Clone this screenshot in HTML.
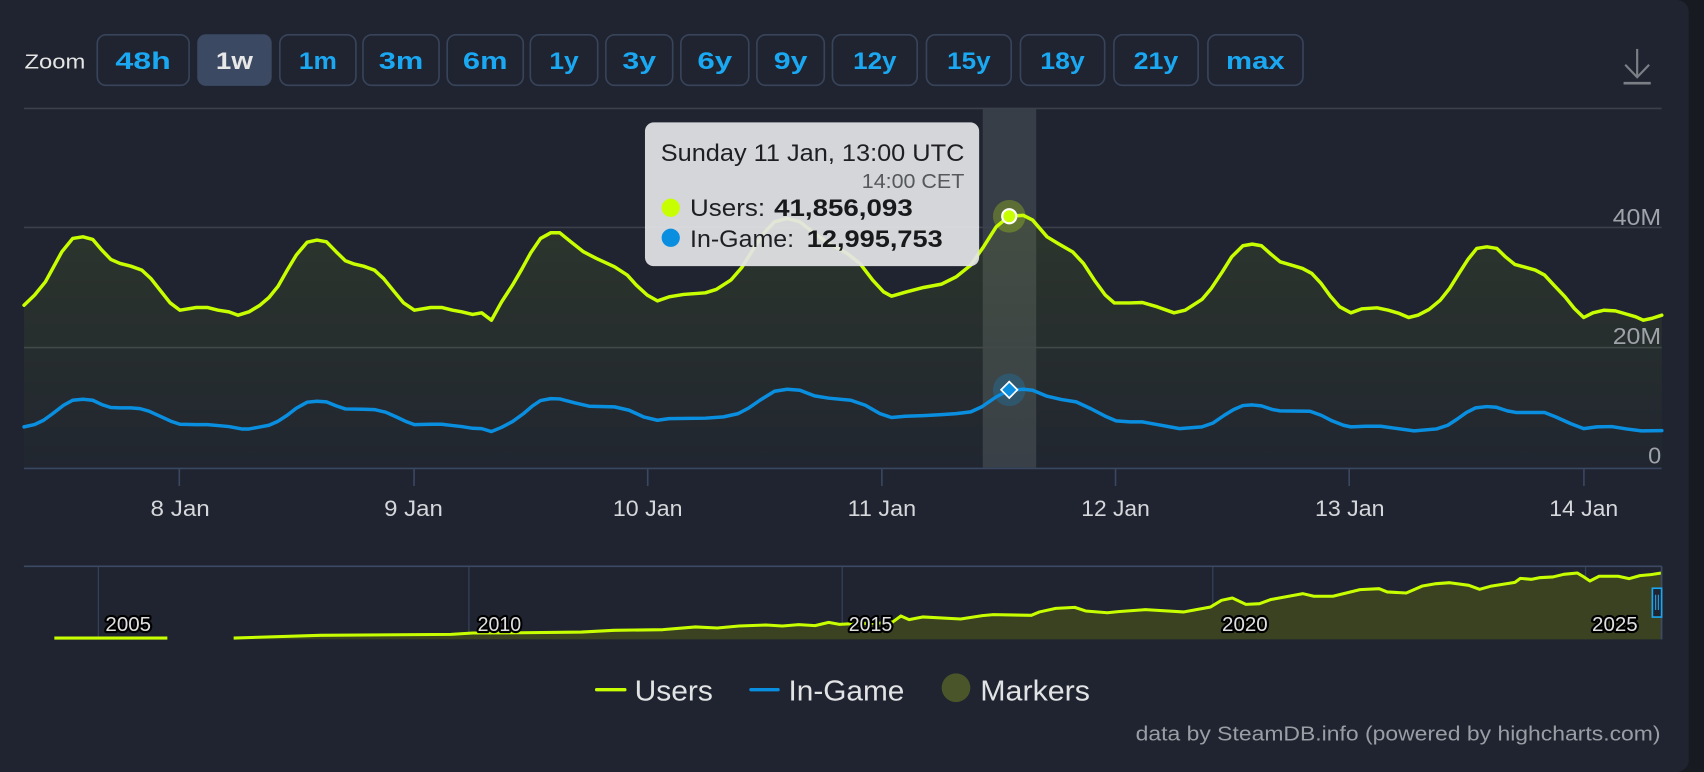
<!DOCTYPE html>
<html>
<head>
<meta charset="utf-8">
<style>
html,body{margin:0;padding:0;background:#171a21;width:1704px;height:772px;overflow:hidden;}
svg{display:block;position:absolute;left:0;top:0;}
text{font-family:"Liberation Sans",Arial,sans-serif;}
</style>
</head>
<body>
<svg width="1704" height="772" viewBox="0 0 1568 710" preserveAspectRatio="none" xmlns="http://www.w3.org/2000/svg">
<defs>
<linearGradient id="ug" x1="0" y1="0" x2="0" y2="1">
<stop offset="0" stop-color="#c8ff00" stop-opacity="0.08"/>
<stop offset="1" stop-color="#c8ff00" stop-opacity="0.01"/>
</linearGradient>
</defs>
<!-- card -->
<rect x="-20" y="0" width="1574" height="710" rx="11" fill="#1f2430"/>

<!-- zoom bar -->
<text x="22.5" y="62.9" font-size="19" fill="#e4e4e4" textLength="56" lengthAdjust="spacingAndGlyphs">Zoom</text>
<g fill="none" stroke="#38445a" stroke-width="1.5">
<rect x="89.5" y="32" width="84.5" height="46.5" rx="8"/>
<rect x="257.5" y="32" width="70" height="46.5" rx="8"/>
<rect x="334" y="32" width="70" height="46.5" rx="8"/>
<rect x="411.5" y="32" width="70" height="46.5" rx="8"/>
<rect x="488" y="32" width="62" height="46.5" rx="8"/>
<rect x="557.5" y="32" width="61.5" height="46.5" rx="8"/>
<rect x="626.5" y="32" width="62.5" height="46.5" rx="8"/>
<rect x="696.5" y="32" width="62" height="46.5" rx="8"/>
<rect x="766" y="32" width="78" height="46.5" rx="8"/>
<rect x="852.5" y="32" width="78" height="46.5" rx="8"/>
<rect x="939" y="32" width="77.5" height="46.5" rx="8"/>
<rect x="1025" y="32" width="77.5" height="46.5" rx="8"/>
<rect x="1111.5" y="32" width="87.5" height="46.5" rx="8"/>
</g>
<rect x="181.5" y="31.5" width="68.5" height="47.5" rx="8" fill="#3b4a62"/>
<g font-size="22" font-weight="bold" fill="#1ba8f2" text-anchor="middle">
<text x="131.7" y="63.5" textLength="51" lengthAdjust="spacingAndGlyphs">48h</text>
<text x="215.7" y="63.5" textLength="34" lengthAdjust="spacingAndGlyphs" fill="#e8e8e8">1w</text>
<text x="292.5" y="63.5" textLength="35" lengthAdjust="spacingAndGlyphs">1m</text>
<text x="369" y="63.5" textLength="41" lengthAdjust="spacingAndGlyphs">3m</text>
<text x="446.5" y="63.5" textLength="41" lengthAdjust="spacingAndGlyphs">6m</text>
<text x="519" y="63.5" textLength="27" lengthAdjust="spacingAndGlyphs">1y</text>
<text x="588.2" y="63.5" textLength="31" lengthAdjust="spacingAndGlyphs">3y</text>
<text x="657.7" y="63.5" textLength="32" lengthAdjust="spacingAndGlyphs">6y</text>
<text x="727.5" y="63.5" textLength="31" lengthAdjust="spacingAndGlyphs">9y</text>
<text x="805" y="63.5" textLength="40" lengthAdjust="spacingAndGlyphs">12y</text>
<text x="891.5" y="63.5" textLength="40" lengthAdjust="spacingAndGlyphs">15y</text>
<text x="977.7" y="63.5" textLength="41" lengthAdjust="spacingAndGlyphs">18y</text>
<text x="1063.7" y="63.5" textLength="41" lengthAdjust="spacingAndGlyphs">21y</text>
<text x="1155.2" y="63.5" textLength="54" lengthAdjust="spacingAndGlyphs">max</text>
</g>
<!-- download icon -->
<g stroke="#7c7f85" stroke-width="2" fill="none">
<line x1="1506.5" y1="45" x2="1506.5" y2="71"/>
<polyline points="1495.5,59.5 1506.5,71 1517.5,59.5"/>
<line x1="1494" y1="76.5" x2="1519" y2="76.5" stroke-width="2.5"/>
</g>

<!-- plot band -->
<rect x="904.3" y="100" width="49.2" height="330" fill="#383e48"/>
<!-- gridlines -->
<g stroke="#3b404a" stroke-width="1.5">
<line x1="22" y1="99.7" x2="1529" y2="99.7"/>
<line x1="22" y1="209.2" x2="1529" y2="209.2"/>
<line x1="22" y1="319.6" x2="1529" y2="319.6"/>
</g>
<!-- users area -->
<polygon fill="url(#ug)" points="22.1,430 22.1,280.7 31.8,271.4 41.8,259.2 56.9,231.6 66.9,219.3 76.3,217.8 85.3,220.2 93.7,230.0 102.0,238.6 110.4,242.3 120.4,244.8 130.5,248.4 138.8,256.1 147.2,266.8 156.5,278.5 165.6,285.3 180.6,282.8 190.7,282.8 200.7,285.3 210.7,286.8 219.1,289.9 229.1,286.8 239.2,280.7 247.5,273.6 255.9,263.2 264.3,248.4 272.6,234.6 282.7,222.7 291.7,220.8 300.4,222.4 309.4,231.6 317.8,239.8 326.1,242.9 334.5,244.8 344.5,248.4 352.9,256.1 362.9,268.4 371.3,278.5 381.3,285.3 396.4,282.8 406.4,282.8 416.5,285.3 424.8,286.8 434.9,289.2 443.2,287.7 452.2,294.5 461.6,277.6 471.6,262.2 480.0,247.8 488.4,232.5 497.4,219.3 506.8,214.1 515.1,214.1 525.3,222.4 537.0,231.6 548.8,237.7 565.5,245.4 577.2,253.0 585.5,262.2 595.6,271.4 605.0,276.7 615.7,273.0 629.0,270.8 649.1,269.3 659.1,266.2 672.5,257.6 682.6,246.0 692.6,230.0 702.6,214.7 712.7,204.0 724.4,200.9 736.1,204.0 749.5,214.7 762.8,223.9 779.6,233.1 791.3,242.3 803.0,257.6 813.0,268.4 820.4,272.4 833.1,268.7 849.8,264.4 866.5,261.3 879.9,254.6 893.3,243.8 905.0,227.0 916.7,208.6 928.7,198.7 941.8,198.1 950.2,202.4 963.5,217.8 973.6,223.9 987.0,231.6 997.0,242.3 1007.0,257.6 1017.1,271.4 1025.4,278.6 1039.8,278.6 1051.2,278.2 1064.9,282.2 1080.3,287.7 1090.6,285.3 1106.0,275.4 1114.6,265.3 1124.8,250.0 1133.4,236.2 1143.7,226.0 1152.3,224.5 1160.8,226.0 1169.4,233.7 1178.0,240.8 1188.2,243.8 1198.5,246.9 1207.1,251.5 1215.7,260.7 1224.2,272.4 1232.8,282.2 1243.1,287.7 1253.4,284.0 1267.1,283.1 1277.4,285.3 1287.6,288.3 1296.2,292.0 1304.8,289.9 1315.0,284.6 1325.3,276.1 1333.9,265.3 1342.5,251.5 1351.0,238.3 1358.9,228.5 1368.2,227.0 1377.4,228.5 1385.3,236.2 1393.9,243.2 1404.1,246.0 1412.7,248.4 1421.3,253.0 1429.8,262.2 1440.1,273.0 1448.7,283.7 1457.3,292.0 1465.8,287.7 1476.1,285.3 1486.4,285.9 1496.7,288.9 1505.2,291.4 1512.1,294.5 1520.7,292.6 1529.2,289.9 1529.2,430"/>
<!-- x axis -->
<g stroke="#3a4760" stroke-width="1.5">
<line x1="22" y1="430.8" x2="1529" y2="430.8"/>
<line x1="165" y1="431" x2="165" y2="447"/>
<line x1="381" y1="431" x2="381" y2="447"/>
<line x1="596" y1="431" x2="596" y2="447"/>
<line x1="811.5" y1="431" x2="811.5" y2="447"/>
<line x1="1026.5" y1="431" x2="1026.5" y2="447"/>
<line x1="1241.5" y1="431" x2="1241.5" y2="447"/>
<line x1="1457.5" y1="431" x2="1457.5" y2="447"/>
</g>
<!-- users line -->
<polyline fill="none" stroke="#c8ff00" stroke-width="3.2" stroke-linejoin="round" stroke-linecap="round" points="22.1,280.7 31.8,271.4 41.8,259.2 56.9,231.6 66.9,219.3 76.3,217.8 85.3,220.2 93.7,230.0 102.0,238.6 110.4,242.3 120.4,244.8 130.5,248.4 138.8,256.1 147.2,266.8 156.5,278.5 165.6,285.3 180.6,282.8 190.7,282.8 200.7,285.3 210.7,286.8 219.1,289.9 229.1,286.8 239.2,280.7 247.5,273.6 255.9,263.2 264.3,248.4 272.6,234.6 282.7,222.7 291.7,220.8 300.4,222.4 309.4,231.6 317.8,239.8 326.1,242.9 334.5,244.8 344.5,248.4 352.9,256.1 362.9,268.4 371.3,278.5 381.3,285.3 396.4,282.8 406.4,282.8 416.5,285.3 424.8,286.8 434.9,289.2 443.2,287.7 452.2,294.5 461.6,277.6 471.6,262.2 480.0,247.8 488.4,232.5 497.4,219.3 506.8,214.1 515.1,214.1 525.3,222.4 537.0,231.6 548.8,237.7 565.5,245.4 577.2,253.0 585.5,262.2 595.6,271.4 605.0,276.7 615.7,273.0 629.0,270.8 649.1,269.3 659.1,266.2 672.5,257.6 682.6,246.0 692.6,230.0 702.6,214.7 712.7,204.0 724.4,200.9 736.1,204.0 749.5,214.7 762.8,223.9 779.6,233.1 791.3,242.3 803.0,257.6 813.0,268.4 820.4,272.4 833.1,268.7 849.8,264.4 866.5,261.3 879.9,254.6 893.3,243.8 905.0,227.0 916.7,208.6 928.7,198.7 941.8,198.1 950.2,202.4 963.5,217.8 973.6,223.9 987.0,231.6 997.0,242.3 1007.0,257.6 1017.1,271.4 1025.4,278.6 1039.8,278.6 1051.2,278.2 1064.9,282.2 1080.3,287.7 1090.6,285.3 1106.0,275.4 1114.6,265.3 1124.8,250.0 1133.4,236.2 1143.7,226.0 1152.3,224.5 1160.8,226.0 1169.4,233.7 1178.0,240.8 1188.2,243.8 1198.5,246.9 1207.1,251.5 1215.7,260.7 1224.2,272.4 1232.8,282.2 1243.1,287.7 1253.4,284.0 1267.1,283.1 1277.4,285.3 1287.6,288.3 1296.2,292.0 1304.8,289.9 1315.0,284.6 1325.3,276.1 1333.9,265.3 1342.5,251.5 1351.0,238.3 1358.9,228.5 1368.2,227.0 1377.4,228.5 1385.3,236.2 1393.9,243.2 1404.1,246.0 1412.7,248.4 1421.3,253.0 1429.8,262.2 1440.1,273.0 1448.7,283.7 1457.3,292.0 1465.8,287.7 1476.1,285.3 1486.4,285.9 1496.7,288.9 1505.2,291.4 1512.1,294.5 1520.7,292.6 1529.2,289.9"/>
<!-- in-game line -->
<polyline fill="none" stroke="#0a8fe0" stroke-width="3.2" stroke-linejoin="round" stroke-linecap="round" points="22.1,392.6 31.8,390.5 40.1,386.5 48.5,380.4 58.5,372.7 66.9,368.1 76.3,367.2 85.3,368.1 93.7,372.1 102.0,374.8 110.4,375.1 120.4,375.1 128.8,375.8 137.1,378.2 147.2,382.8 157.2,387.4 165.6,390.2 180.6,390.5 190.7,390.5 200.7,391.4 210.7,392.3 222.4,394.5 229.1,394.5 237.5,393.0 247.5,391.1 255.9,387.4 264.3,381.9 272.6,375.5 282.7,369.9 291.7,369.0 300.4,369.6 309.4,373.3 317.8,376.1 334.5,376.4 344.5,376.7 354.9,379.1 364.6,383.4 373.0,387.4 381.3,390.5 396.4,390.2 406.4,390.2 416.5,391.4 424.8,392.3 434.9,393.9 443.2,394.2 452.2,396.9 461.6,393.0 471.6,387.7 481.7,380.4 490.0,373.3 497.4,368.4 506.8,366.6 515.1,366.9 528.7,370.5 542.1,373.6 565.5,374.2 578.9,377.3 592.2,383.4 605.0,386.5 615.7,385.0 649.1,384.6 665.8,383.4 679.2,380.4 689.2,375.1 699.3,368.1 712.7,359.8 724.4,358.0 736.1,358.9 749.5,364.1 762.8,366.2 782.9,368.1 796.3,372.7 809.7,380.4 820.4,384.0 833.1,382.8 849.8,382.2 866.5,381.3 879.9,380.4 893.3,378.8 903.3,374.2 916.7,365.0 928.7,358.9 941.8,358.0 950.2,358.9 963.5,364.4 976.9,367.5 990.3,369.6 1003.7,375.8 1017.1,382.8 1027.1,387.1 1039.8,388.0 1051.2,388.0 1064.9,390.5 1085.4,394.2 1106.0,392.6 1116.3,389.0 1126.6,381.9 1135.1,376.7 1143.7,373.0 1152.3,372.4 1160.8,373.3 1171.1,376.7 1178.0,377.9 1205.4,378.2 1215.7,381.9 1225.9,387.1 1236.2,391.1 1243.1,392.6 1256.8,392.0 1270.5,392.0 1284.2,393.9 1301.3,396.3 1321.9,394.5 1332.2,391.1 1340.7,385.6 1349.3,379.4 1357.9,375.1 1368.2,373.9 1376.7,374.5 1387.0,377.9 1395.6,379.4 1421.3,379.4 1431.5,383.4 1445.3,389.6 1457.3,394.2 1469.3,392.6 1483.0,392.3 1496.7,394.5 1510.4,396.3 1529.2,396.0"/>

<!-- y labels -->
<g font-size="21" fill="#9ea2a9" text-anchor="end">
<text x="1528.6" y="207" textLength="44.6" lengthAdjust="spacingAndGlyphs">40M</text>
<text x="1528.6" y="316.5" textLength="44.6" lengthAdjust="spacingAndGlyphs">20M</text>
<text x="1528.6" y="426.4" textLength="12" lengthAdjust="spacingAndGlyphs">0</text>
</g>
<!-- x labels -->
<g font-size="20" fill="#d5d7da" text-anchor="middle">
<text x="165.8" y="474.8" textLength="54.5" lengthAdjust="spacingAndGlyphs">8 Jan</text>
<text x="380.5" y="474.8" textLength="54" lengthAdjust="spacingAndGlyphs">9 Jan</text>
<text x="596" y="474.8" textLength="64" lengthAdjust="spacingAndGlyphs">10 Jan</text>
<text x="811.5" y="474.8" textLength="63" lengthAdjust="spacingAndGlyphs">11 Jan</text>
<text x="1026.5" y="474.8" textLength="63" lengthAdjust="spacingAndGlyphs">12 Jan</text>
<text x="1242" y="474.8" textLength="64" lengthAdjust="spacingAndGlyphs">13 Jan</text>
<text x="1457.3" y="474.8" textLength="63.5" lengthAdjust="spacingAndGlyphs">14 Jan</text>
</g>

<!-- markers -->
<circle cx="928.7" cy="198.9" r="15" fill="#c8ff00" fill-opacity="0.25"/>
<circle cx="928.7" cy="198.9" r="6.5" fill="#c8ff00" stroke="#ffffff" stroke-width="2"/>
<circle cx="928.7" cy="358.5" r="15" fill="#0a8fe0" fill-opacity="0.25"/>
<polygon points="928.7,351 936.2,358.5 928.7,366 921.2,358.5" fill="#0a8fe0" stroke="#ffffff" stroke-width="1.6"/>

<!-- tooltip -->
<rect x="593.5" y="112.6" width="307.5" height="132.2" rx="8" fill="#e3e4e6" fill-opacity="0.93"/>
<text x="608" y="148.2" font-size="22" fill="#1e1f22" textLength="279.4" lengthAdjust="spacingAndGlyphs">Sunday 11 Jan, 13:00 UTC</text>
<text x="887.4" y="172.7" font-size="19" fill="#55585c" text-anchor="end" textLength="94.4" lengthAdjust="spacingAndGlyphs">14:00 CET</text>
<circle cx="617.2" cy="191.1" r="8.4" fill="#c8ff00"/>
<text x="635" y="198.8" font-size="22" fill="#1e1f22" textLength="69" lengthAdjust="spacingAndGlyphs">Users:</text>
<text x="712.3" y="198.8" font-size="22" font-weight="bold" fill="#18191b" textLength="127.6" lengthAdjust="spacingAndGlyphs">41,856,093</text>
<circle cx="617.2" cy="218.7" r="8.4" fill="#0a8fe0"/>
<text x="635" y="227" font-size="22" fill="#1e1f22" textLength="95.7" lengthAdjust="spacingAndGlyphs">In-Game:</text>
<text x="742.4" y="227" font-size="22" font-weight="bold" fill="#18191b" textLength="125.1" lengthAdjust="spacingAndGlyphs">12,995,753</text>

<!-- navigator -->
<g stroke="#33405a" stroke-width="1.2">
<line x1="90.5" y1="521" x2="90.5" y2="588"/>
<line x1="431.5" y1="521" x2="431.5" y2="588"/>
<line x1="775" y1="521" x2="775" y2="588"/>
<line x1="1116" y1="521" x2="1116" y2="588"/>
<line x1="1459" y1="521" x2="1459" y2="588"/>
</g>
<polygon fill="#3a4221" points="215,588 215,586.8 295,584.3 415,583.4 435,582.2 480,581.9 535,581.3 565,579.7 610,579.1 640,576.6 660,577.6 680,575.7 705,574.8 720,575.7 735,574.5 750,575.4 762.5,572.4 772.5,574.2 784,573.6 810,573 821.5,572.0 829,566.5 836.5,569.9 849,567.4 884,569.3 904,566.2 914,565.3 949,565.9 956.5,562.8 971.5,559.5 989,558.6 999,561.9 1019,563.5 1029,562.5 1054,560.7 1089,562.8 1114,558.2 1124,552.1 1134,550.0 1146.5,555.8 1159,555.2 1169,551.5 1199,546.0 1209,548.4 1226.5,548.4 1251.5,542.3 1269,541.4 1276.5,544.4 1294,545.4 1309,538.9 1321.5,536.8 1334,535.9 1351.5,538.3 1361.5,542.0 1371.5,539.2 1394,535.6 1399,531.9 1409,532.8 1416.5,531.3 1429,530.6 1439,528.2 1451.5,527.0 1456.5,530.0 1463,534.3 1471.5,530.0 1489,530.0 1499,532.2 1509,529.4 1519,528.5 1525,527.6 1529,527 1529,588"/>
<line x1="50" y1="586.8" x2="154" y2="586.8" stroke="#c8ff00" stroke-width="2.8"/>
<polyline fill="none" stroke="#c8ff00" stroke-width="2.8" stroke-linejoin="round" points="215,586.8 295,584.3 415,583.4 435,582.2 480,581.9 535,581.3 565,579.7 610,579.1 640,576.6 660,577.6 680,575.7 705,574.8 720,575.7 735,574.5 750,575.4 762.5,572.4 772.5,574.2 784,573.6 810,573 821.5,572.0 829,566.5 836.5,569.9 849,567.4 884,569.3 904,566.2 914,565.3 949,565.9 956.5,562.8 971.5,559.5 989,558.6 999,561.9 1019,563.5 1029,562.5 1054,560.7 1089,562.8 1114,558.2 1124,552.1 1134,550.0 1146.5,555.8 1159,555.2 1169,551.5 1199,546.0 1209,548.4 1226.5,548.4 1251.5,542.3 1269,541.4 1276.5,544.4 1294,545.4 1309,538.9 1321.5,536.8 1334,535.9 1351.5,538.3 1361.5,542.0 1371.5,539.2 1394,535.6 1399,531.9 1409,532.8 1416.5,531.3 1429,530.6 1439,528.2 1451.5,527.0 1456.5,530.0 1463,534.3 1471.5,530.0 1489,530.0 1499,532.2 1509,529.4 1519,528.5 1525,527.6 1529,527"/>
<line x1="22" y1="520.8" x2="1529" y2="520.8" stroke="#3d4a63" stroke-width="1.5"/>
<line x1="1529" y1="520.8" x2="1529" y2="588" stroke="#3d4a63" stroke-width="1.5"/>
<g font-size="19" fill="#e0e0e0" stroke="#000" stroke-width="4" stroke-linejoin="round" paint-order="stroke">
<text x="97" y="580.5" textLength="42" lengthAdjust="spacingAndGlyphs">2005</text>
<text x="439.5" y="580.5" textLength="40" lengthAdjust="spacingAndGlyphs">2010</text>
<text x="781" y="580.5" textLength="40" lengthAdjust="spacingAndGlyphs">2015</text>
<text x="1124.5" y="580.5" textLength="42" lengthAdjust="spacingAndGlyphs">2020</text>
<text x="1465" y="580.5" textLength="42" lengthAdjust="spacingAndGlyphs">2025</text>
</g>
<rect x="1520.5" y="541" width="8.5" height="26.5" fill="#1f2430" stroke="#1ba8f2" stroke-width="1.5"/>
<line x1="1523.5" y1="547" x2="1523.5" y2="561" stroke="#1ba8f2" stroke-width="1"/>
<line x1="1526" y1="547" x2="1526" y2="561" stroke="#1ba8f2" stroke-width="1"/>

<!-- legend -->
<line x1="549" y1="634.3" x2="575" y2="634.3" stroke="#c8ff00" stroke-width="3" stroke-linecap="round"/>
<text x="584" y="644.2" font-size="26" fill="#e2e3e5" textLength="72" lengthAdjust="spacingAndGlyphs">Users</text>
<line x1="691" y1="634.3" x2="716" y2="634.3" stroke="#0a8fe0" stroke-width="3" stroke-linecap="round"/>
<text x="725.6" y="644.2" font-size="26" fill="#e2e3e5" textLength="106.6" lengthAdjust="spacingAndGlyphs">In-Game</text>
<circle cx="879.7" cy="632.5" r="13.2" fill="#4a5529"/>
<text x="902" y="644.2" font-size="26" fill="#e2e3e5" textLength="101" lengthAdjust="spacingAndGlyphs">Markers</text>

<!-- credits -->
<text x="1528" y="681" font-size="19" fill="#9a9ea4" text-anchor="end" textLength="483" lengthAdjust="spacingAndGlyphs">data by SteamDB.info (powered by highcharts.com)</text>
</svg>
</body>
</html>
